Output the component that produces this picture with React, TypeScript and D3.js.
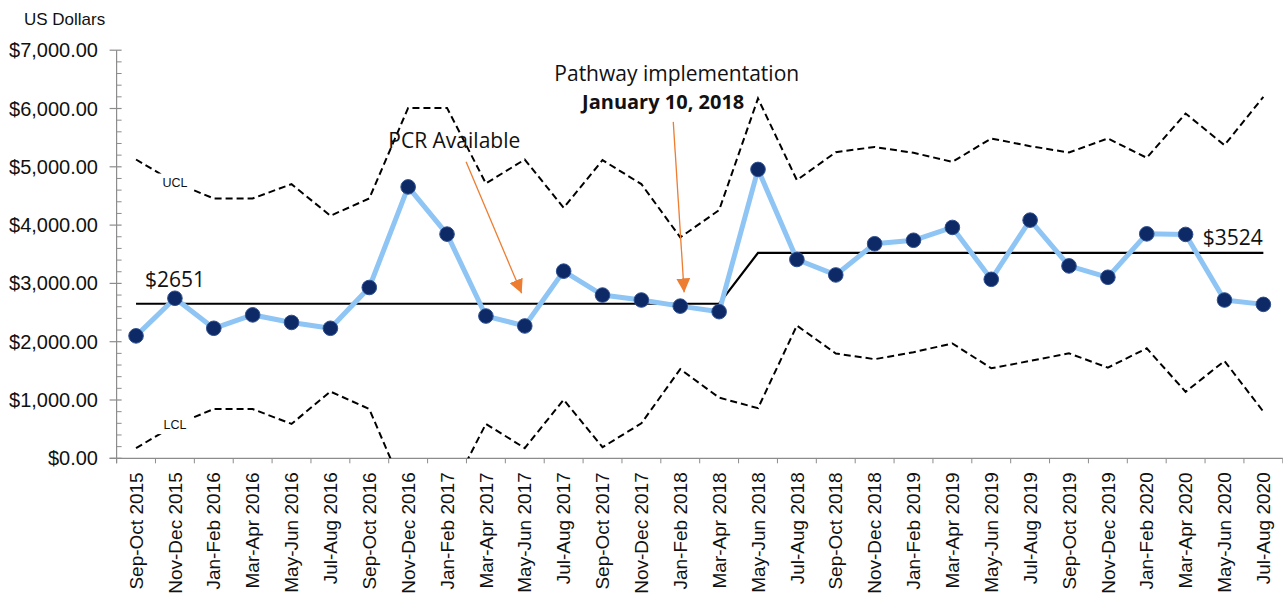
import React from "react";
import * as d3 from "d3";

// categories (two-month periods)
const periods = [
  "Sep-Oct 2015", "Nov-Dec 2015", "Jan-Feb 2016", "Mar-Apr 2016", "May-Jun 2016",
  "Jul-Aug 2016", "Sep-Oct 2016", "Nov-Dec 2016", "Jan-Feb 2017", "Mar-Apr 2017",
  "May-Jun 2017", "Jul-Aug 2017", "Sep-Oct 2017", "Nov-Dec 2017", "Jan-Feb 2018",
  "Mar-Apr 2018", "May-Jun 2018", "Jul-Aug 2018", "Sep-Oct 2018", "Nov-Dec 2018",
  "Jan-Feb 2019", "Mar-Apr 2019", "May-Jun 2019", "Jul-Aug 2019", "Sep-Oct 2019",
  "Nov-Dec 2019", "Jan-Feb 2020", "Mar-Apr 2020", "May-Jun 2020", "Jul-Aug 2020",
];

// mean cost per period (US$)
const costs = [
  2100, 2745, 2230, 2460, 2330, 2230, 2930, 4655, 3845, 2440,
  2270, 3210, 2800, 2715, 2610, 2515, 4955, 3410, 3145, 3680,
  3740, 3960, 3070, 4085, 3300, 3105, 3850, 3840, 2715, 2640,
];

// centre line
const centerLine = [
  2651, 2651, 2651, 2651, 2651, 2651, 2651, 2651, 2651, 2651,
  2651, 2651, 2651, 2651, 2651, 2651, 3524, 3524, 3524, 3524,
  3524, 3524, 3524, 3524, 3524, 3524, 3524, 3524, 3524, 3524,
];

// upper control limit
const ucl = [
  5125, 4730, 4457, 4457, 4703, 4160, 4457, 6010, 6010, 4714,
  5125, 4297, 5114, 4703, 3790, 4257, 6172, 4771, 5250, 5340,
  5240, 5085, 5486, 5354, 5246, 5486, 5154, 5914, 5371, 6200,
];

// lower control limit
const lcl = [
  175, 570, 845, 845, 590, 1145, 845, -710, -710, 590,
  175, 1005, 190, 600, 1530, 1040, 860, 2277, 1798, 1700,
  1820, 1970, 1545, 1670, 1800, 1555, 1886, 1140, 1670, 800,
];

const yTicks = [0, 1000, 2000, 3000, 4000, 5000, 6000, 7000];

// annotations positioned in data space (index along x, value along y)
const arrows = [
  { from: [8.49, 5085], to: [9.92, 2829] },
  { from: [13.82, 5770], to: [14.1, 2846] },
];

const W = 1283;
const H = 599;
const left = 116.6;
const right = 1282.8;
const top = 50.2;
const bottom = 458.3;

const ORANGE = "#ED7D31";
const AXIS = "#8c8c8c";
const ARIAL = "'Liberation Sans', Arial, sans-serif";
const CALIBRI = "'Open Sans', Calibri, sans-serif";

export default function App() {
  const x = d3.scaleBand<string>().domain(periods).range([left, right]);
  const cx = (i: number) => (x(periods[i]) as number) + x.bandwidth() / 2;
  const xi = d3.scaleLinear().domain([0, periods.length - 1]).range([cx(0), cx(periods.length - 1)]);
  const y = d3.scaleLinear().domain([0, 7000]).range([bottom, top]);

  const line = d3
    .line<number>()
    .x((_, i) => cx(i))
    .y((d) => y(d));

  const minorTicks = d3.range(0, 7001, 200).filter((v) => v % 1000 !== 0);
  const fmt = d3.format("$,.2f");
  const bounds = periods.map((_, i) => left + i * x.step()).concat([right]);

  return (
    <svg width={W} height={H} style={{ display: "block", background: "#fff" }}>
      <style>{`body{margin:0}`}</style>
      <defs>
        <clipPath id="plot">
          <rect x={left} y={0} width={right - left + 5} height={bottom - 0} />
        </clipPath>
        <marker id="headBig" viewBox="0 0 14 14" refX="14" refY="7" markerWidth="14" markerHeight="14" markerUnits="userSpaceOnUse" orient="auto">
          <path d="M0,0 L14,7 L0,14 z" fill={ORANGE} />
        </marker>
      </defs>

      {/* y axis title */}
      <text x={24} y={25} fontFamily={ARIAL} fontSize={17} fill="#111">
        US Dollars
      </text>

      {/* y axis */}
      <line x1={left} x2={left} y1={top} y2={bottom + 5} stroke={AXIS} strokeWidth={1.2} />
      {minorTicks.map((v) => (
        <line key={v} x1={left} x2={left + 5} y1={y(v)} y2={y(v)} stroke={AXIS} strokeWidth={1} />
      ))}
      {yTicks.map((v) => (
        <g key={v}>
          <line x1={left - 7} x2={left + 5} y1={y(v)} y2={y(v)} stroke={AXIS} strokeWidth={1.2} />
          <text x={98} y={y(v)} dy="0.35em" textAnchor="end" fontFamily={ARIAL} fontSize={20} fill="#111">
            {fmt(v)}
          </text>
        </g>
      ))}

      {/* x axis */}
      <line x1={left - 7} x2={right} y1={bottom} y2={bottom} stroke={AXIS} strokeWidth={1.2} />
      {bounds.map((b, i) => (
        <line key={i} x1={b} x2={b} y1={bottom} y2={bottom + 5} stroke={AXIS} strokeWidth={1} />
      ))}
      {periods.map((p, i) => (
        <text
          key={p}
          transform={`translate(${cx(i)},${bottom + 14}) rotate(-90)`}
          dy="0.35em"
          textAnchor="end"
          fontFamily={ARIAL}
          fontSize={19}
          fill="#111"
        >
          {p}
        </text>
      ))}

      {/* control limits */}
      <g clipPath="url(#plot)">
        <path d={line(ucl) || ""} fill="none" stroke="#000" strokeWidth={2} strokeDasharray="7,4" />
        <path d={line(lcl) || ""} fill="none" stroke="#000" strokeWidth={2} strokeDasharray="7,4" />
      </g>
      {[
        { t: "UCL", v: ucl[1] },
        { t: "LCL", v: lcl[1] },
      ].map((l) => (
        <g key={l.t}>
          <rect x={cx(1) - 18} y={y(l.v) - 9} width={36} height={18} fill="#fff" />
          <text x={cx(1)} y={y(l.v)} dy="0.35em" textAnchor="middle" fontFamily={ARIAL} fontSize={12.5} fill="#111">
            {l.t}
          </text>
        </g>
      ))}

      {/* centre line */}
      <path d={line(centerLine) || ""} fill="none" stroke="#000" strokeWidth={2.2} />

      {/* data */}
      <path d={line(costs) || ""} fill="none" stroke="#8EC5F4" strokeWidth={5} strokeLinejoin="round" />
      {costs.map((v, i) => (
        <circle key={i} cx={cx(i)} cy={y(v)} r={7.3} fill="#0D2A66" stroke="#2F4F91" strokeWidth={1} />
      ))}

      {/* labels */}
      <text x={xi(0.23)} y={y(2932)} fontFamily={CALIBRI} fontSize={21} fill="#111">
        $2651
      </text>
      <text x={xi(27.44)} y={y(3657)} fontFamily={CALIBRI} fontSize={21} fill="#111">
        $3524
      </text>
      <text x={xi(6.49)} y={y(5317)} fontFamily={CALIBRI} fontSize={21} fill="#111">
        PCR Available
      </text>
      <text x={xi(13.91)} y={y(6473)} textAnchor="middle" fontFamily={CALIBRI} fontSize={21} fill="#111">
        Pathway implementation
      </text>
      <text x={xi(13.56)} y={y(6000)} textAnchor="middle" fontFamily={CALIBRI} fontSize={20} fontWeight="bold" fill="#111">
        January 10, 2018
      </text>

      {arrows.map((a, i) => (
        <line
          key={i}
          x1={xi(a.from[0])}
          y1={y(a.from[1])}
          x2={xi(a.to[0])}
          y2={y(a.to[1])}
          stroke={ORANGE}
          strokeWidth={1.3}
          markerEnd="url(#headBig)"
        />
      ))}
    </svg>
  );
}
